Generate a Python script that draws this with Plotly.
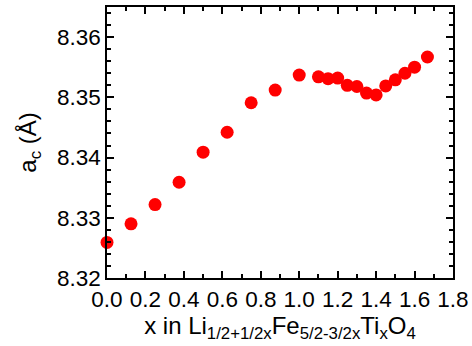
import plotly.graph_objects as go

x_vals = [0.0, 0.125, 0.25, 0.375, 0.5, 0.625, 0.75, 0.875, 1.0, 1.1, 1.15, 1.2, 1.25, 1.3, 1.35, 1.4, 1.45, 1.5, 1.55, 1.6, 1.667]
a_c = [8.3259, 8.3290, 8.3322, 8.3359, 8.3409, 8.3442, 8.3491, 8.3512, 8.3537, 8.3534, 8.3531, 8.3532,
       8.3520, 8.3518, 8.3507, 8.3504, 8.3519, 8.3529, 8.3540, 8.3550, 8.3567]

fig = go.Figure(go.Scatter(x=x_vals, y=a_c, mode="markers", cliponaxis=False,
                           marker=dict(color="#ff0000", size=13, line=dict(width=0))))

font = "Liberation Sans, Arial, sans-serif"
axis_common = dict(showline=True, linecolor="black", linewidth=1.5, mirror="ticks",
                   ticks="inside", ticklen=7, tickwidth=1.5, tickcolor="black",
                   showgrid=False, zeroline=False, automargin=False,
                   tickfont=dict(family=font, size=22.5, color="black"))

fig.update_xaxes(range=[0, 1.8], dtick=0.2, tickformat=".1f",
                 minor=dict(dtick=0.1, ticks="inside", ticklen=4, tickwidth=1.5, tickcolor="black"),
                 title=dict(text="x in Li<sub>1/2+1/2x</sub>Fe<sub>5/2-3/2x</sub>Ti<sub>x</sub>O<sub>4</sub>",
                            font=dict(family=font, size=24, color="black"), standoff=4),
                 **axis_common)
fig.update_yaxes(range=[8.32, 8.365], dtick=0.01, tickformat=".2f",
                 minor=dict(dtick=0.002, ticks="inside", ticklen=4, tickwidth=1.5, tickcolor="black"),
                 title=dict(text="a<sub>c</sub> (Å)", font=dict(family=font, size=24, color="black"), standoff=14),
                 **axis_common)

fig.update_layout(width=472, height=346, margin=dict(l=107, r=19, t=7, b=68),
                  plot_bgcolor="white", paper_bgcolor="white", showlegend=False)

fig.write_html("out.html", config={"displayModeBar": False},
               post_script="document.body.style.margin='0';document.body.style.padding='0';")
